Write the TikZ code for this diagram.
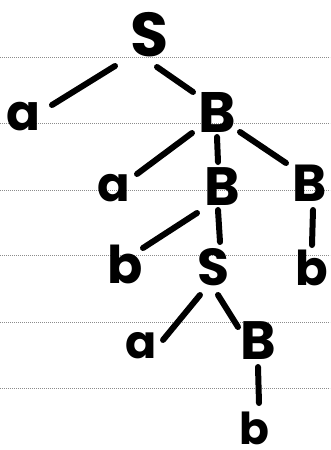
\documentclass[tikz,border=0pt]{standalone}
\usepackage{fontspec}
\newfontfamily\markerfont{Poppins}
\tikzset{
  ruling/.style={draw=black!45, line width=0.6pt, dash pattern=on 0.7pt off 1.3pt},
  sym/.style={inner sep=0pt, text=black, font=\markerfont\bfseries\fontsize{#1}{#1}\selectfont},
  sym/.default={54},
  edge/.style={draw=black, line width=6pt, line cap=round},
}
\begin{document}
\begin{tikzpicture}[x=1pt, y=-1pt]
  \useasboundingbox[fill=white] (0,0) rectangle (330,450);
  % ruled notebook lines
  \foreach \y in {57,123,190,255,322,388}
    \draw[ruling] (0,\y) -- (330,\y);

  % symbols of the derivation tree
  \node[sym=62] (S1) at (150,35)  {S};
  \node[sym=50] (a1) at (23,117)  {a};
  \node[sym=57] (B1) at (217,112) {B};
  \node[sym=48] (a2) at (114,188) {a};
  \node[sym=54] (B2) at (222,187) {B};
  \node[sym=52] (B3) at (310,183) {B};
  \node[sym=52] (b1) at (125,264) {b};
  \node[sym=52] (S2) at (213,267) {S};
  \node[sym=48] (b2) at (312,268) {b};
  \node[sym=46] (a3) at (141,346) {a};
  \node[sym=54] (B4) at (258,341) {B};
  \node[sym=44] (b3) at (254,428) {b};

  % branches
  \draw[edge] ([shift={(-35,31)}]S1.center) -- ([shift={(29,-12)}]a1.center);
  \draw[edge] ([shift={(7,32)}]S1.center)   -- ([shift={(-24,-20)}]B1.center);
  \draw[edge] ([shift={(-25,21)}]B1.center) -- ([shift={(23,-14)}]a2.center);
  \draw[edge] ([shift={(0,25)}]B1.center)   -- ([shift={(-4,-25)}]B2.center);
  \draw[edge] ([shift={(23,20)}]B1.center)  -- ([shift={(-24,-20)}]B3.center);
  \draw[edge] ([shift={(-25,26)}]B2.center) -- ([shift={(18,-16)}]b1.center);
  \draw[edge] ([shift={(-4,23)}]B2.center)  -- ([shift={(7,-25)}]S2.center);
  \draw[edge] ([shift={(3,27)}]B3.center)   -- ([shift={(0,-23)}]b2.center);
  \draw[edge] ([shift={(-13,28)}]S2.center) -- ([shift={(22,-6)}]a3.center);
  \draw[edge] ([shift={(5,28)}]S2.center)   -- ([shift={(-20,-14)}]B4.center);
  \draw[edge] ([shift={(0,26)}]B4.center)   -- ([shift={(5,-25)}]b3.center);
\end{tikzpicture}
\end{document}
